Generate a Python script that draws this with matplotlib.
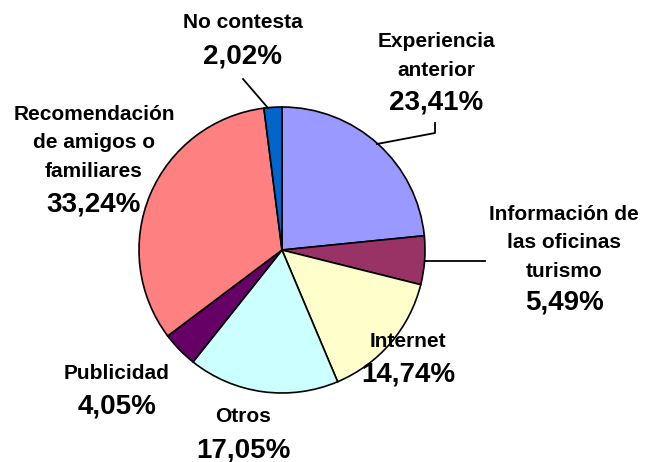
import matplotlib
matplotlib.use("Agg")
import matplotlib.pyplot as plt

# data
categories = ["Experiencia\nanterior", "Información de\nlas oficinas\nturismo", "Internet",
              "Otros", "Publicidad", "Recomendación\nde amigos o\nfamiliares", "No contesta"]
values = [23.41, 5.49, 14.74, 17.05, 4.05, 33.24, 2.02]

colors = ["#9999FF", "#993366", "#FFFFCC", "#CCFFFF", "#660066", "#FF8080", "#0066CC"]

W, H = 645, 462

# label layout in pixels: (x center, first line baseline, percent baseline)
label_pos = [(436, 47, 110), (564, 220, 310), (408, 347, 382), (243, 422, 457),
             (117, 379, 413), (94, 120, 212), (243, 28, 63)]
line_step = 28.5

# leader lines in pixels
leaders = [[(435, 123), (435, 133), (377, 144)],
           [(425, 261), (485, 261)],
           [(243, 79), (268, 108)]]

plt.rcParams['font.family'] = ['Liberation Sans', 'DejaVu Sans']

fig = plt.figure(figsize=(W / 100, H / 100), dpi=100)
ax = fig.add_axes([0, 0, 1, 1])

def py(y):
    return H - y

ax.pie(values, colors=colors, startangle=90, counterclock=False,
       center=(282, py(250)), radius=143,
       wedgeprops=dict(edgecolor='black', linewidth=1.2))
# pie() resets limits
ax.set_xlim(0, W)
ax.set_ylim(0, H)
ax.set_aspect('equal')
ax.axis('off')

for cat, val, (x, yb, yp) in zip(categories, values, label_pos):
    for i, line in enumerate(cat.split("\n")):
        ax.text(x, py(yb + i * line_step), line, ha='center', va='baseline',
                fontsize=15, fontweight='bold')
    pct = ("%.2f%%" % val).replace(".", ",")
    ax.text(x, py(yp), pct, ha='center', va='baseline', fontsize=20, fontweight='bold')

for pts in leaders:
    xs = [p[0] for p in pts]
    ys = [py(p[1]) for p in pts]
    ax.plot(xs, ys, color='black', linewidth=1.3)

fig.savefig("out.png", dpi=100)
